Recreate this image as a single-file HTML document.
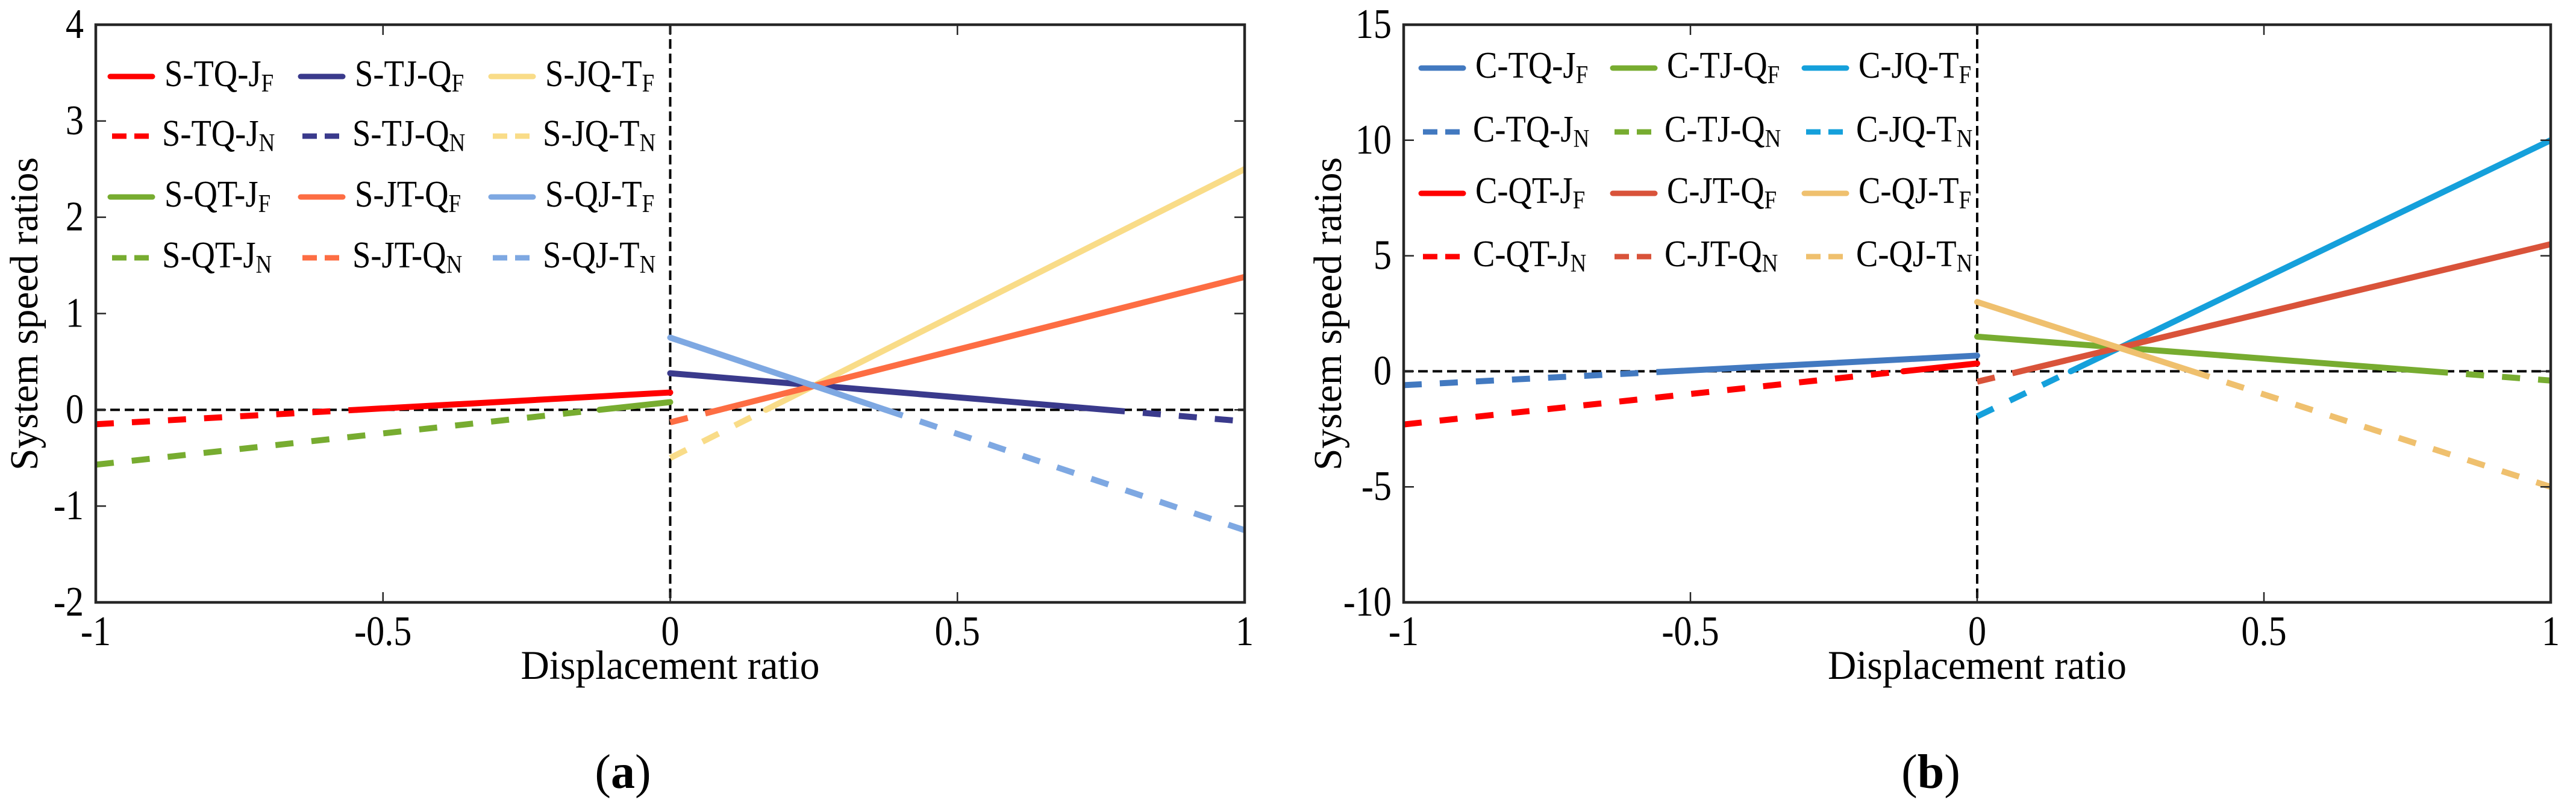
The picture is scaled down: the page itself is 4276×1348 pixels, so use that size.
<!DOCTYPE html>
<html><head><meta charset="utf-8"><style>
html,body{margin:0;padding:0;background:#fff}
svg{display:block}
svg text, svg tspan{font-family:"Liberation Serif","Times New Roman",serif !important;fill:#000}
</style></head><body>
<svg id="fig" width="4276" height="1348" viewBox="0 0 4276 1348" xmlns="http://www.w3.org/2000/svg" font-family="Liberation Serif, serif">
</svg>
<script>
// ---- data: panel (a) ----
const xTicks = [-1, -0.5, 0, 0.5, 1];
const xTickLabels = ['-1', '-0.5', '0', '0.5', '1'];
const aYTicks = [-2, -1, 0, 1, 2, 3, 4];
const aYTickLabels = ['-2', '-1', '0', '1', '2', '3', '4'];
const aNames = ['S-TQ-J', 'S-TJ-Q', 'S-JQ-T', 'S-QT-J', 'S-JT-Q', 'S-QJ-T'];
const aColors = ['#ff0000', '#3a3a8c', '#f9dc88', '#77ac30', '#fd6d43', '#7ea8e2'];
const aX0 = [-1, 0, 0, -1, 0, 0];
const aX1 = [0, 1, 1, 0, 1, 1];
const aY0 = [-0.15, 0.38, -0.5, -0.57, -0.13, 0.75];
const aY1 = [0.18, -0.12, 2.5, 0.08, 1.38, -1.25];
// ---- data: panel (b) ----
const bYTicks = [-10, -5, 0, 5, 10, 15];
const bYTickLabels = ['-10', '-5', '0', '5', '10', '15'];
const bNames = ['C-TQ-J', 'C-TJ-Q', 'C-JQ-T', 'C-QT-J', 'C-JT-Q', 'C-QJ-T'];
const bColors = ['#4279c0', '#77ac30', '#15a0db', '#ff0000', '#d9533a', '#efc06e'];
const bX0 = [-1, 0, 0, -1, 0, 0];
const bX1 = [0, 1, 1, 0, 1, 1];
const bY0 = [-0.6, 1.5, -1.95, -2.3, -0.45, 3.0];
const bY1 = [0.68, -0.4, 10.0, 0.34, 5.5, -5.0];

const NS = 'http://www.w3.org/2000/svg';
const svg = document.getElementById('fig');
const FONT = '"Liberation Serif", serif';
function mk(tag, attrs, parent) {
  const e = document.createElementNS(NS, tag);
  for (const k in attrs) e.setAttribute(k, attrs[k]);
  if (tag === 'text') e.setAttribute('font-family', FONT);
  (parent || svg).appendChild(e);
  return e;
}

function panel(cfg) {
  const g = mk('g', {});
  
  
  const L = cfg.left, R = cfg.right, T = 41, B = 1000;
  const xs = v => L + (v + 1) / 2 * (R - L);
  const ys = v => T + (cfg.ymax - v) / (cfg.ymax - cfg.ymin) * (B - T);
  const clip = mk('clipPath', { id: cfg.id + '-clip' }, g);
  mk('rect', { x: L, y: T, width: R - L, height: B - T }, clip);

  const zl = mk('line', { x1: L, x2: R, y1: ys(0), y2: ys(0), stroke: '#000', 'stroke-width': 4, 'stroke-dasharray': '16 8' }, g);
  
  
  const zv = mk('line', { x1: xs(0), x2: xs(0), y1: T, y2: B, stroke: '#000', 'stroke-width': 4, 'stroke-dasharray': '16 8' }, g);
  
  

  const sg = mk('g', { 'clip-path': 'url(#' + cfg.id + '-clip)' }, g);
  for (let i = 0; i < cfg.names.length; i++) {
    const x0 = cfg.x0[i], x1 = cfg.x1[i], y0 = cfg.y0[i], y1 = cfg.y1[i];
    let xc = null;
    if ((y0 > 0) !== (y1 > 0)) xc = x0 + (0 - y0) / (y1 - y0) * (x1 - x0);
    const segs = xc === null ? [[x0, y0, x1, y1]] : [[x0, y0, xc, 0], [xc, 0, x1, y1]];
    segs.forEach(s => {
      const neg = (s[1] + s[3]) / 2 < 0;
      const ln = mk('line', { x1: xs(s[0]), y1: ys(s[1]), x2: xs(s[2]), y2: ys(s[3]), stroke: cfg.colors[i], 'stroke-width': 10, 'stroke-linecap': neg ? 'butt' : 'round' }, sg);
      if (neg) ln.setAttribute('stroke-dasharray', '30 30');
      
      
    });
  }

  const box = mk('rect', { x: L, y: T, width: R - L, height: B - T, fill: 'none', stroke: '#262626', 'stroke-width': 4.5 }, g);
  
  

  xTicks.forEach((v, i) => {
    const x = xs(v);
    mk('line', { x1: x, x2: x, y1: B, y2: B - 17, stroke: '#262626', 'stroke-width': 2.5 }, g);
    mk('line', { x1: x, x2: x, y1: T, y2: T + 17, stroke: '#262626', 'stroke-width': 2.5 }, g);
    const t = mk('text', { x: x, y: 1071, 'font-size': 70, 'text-anchor': 'middle', transform: 'translate(' + x + ',0) scale(0.86,1) translate(' + (-x) + ',0)' }, g);
    t.textContent = xTickLabels[i];
    
    
  });
  cfg.yTicks.forEach((v, i) => {
    const y = ys(v);
    mk('line', { x1: L, x2: L + 17, y1: y, y2: y, stroke: '#262626', 'stroke-width': 2.5 }, g);
    mk('line', { x1: R, x2: R - 17, y1: y, y2: y, stroke: '#262626', 'stroke-width': 2.5 }, g);
    const xr = L - 20;
    const t = mk('text', { x: xr, y: y + 22, 'font-size': 70, 'text-anchor': 'end', transform: 'translate(' + xr + ',0) scale(0.86,1) translate(' + (-xr) + ',0)' }, g);
    t.textContent = cfg.yTickLabels[i];
    
    
  });

  const xt = mk('text', { x: (L + R) / 2, y: 1127, 'font-size': 68, 'text-anchor': 'middle', textLength: 496, lengthAdjust: 'spacingAndGlyphs' }, g);
  xt.textContent = 'Displacement ratio';
  
  
  const yt = mk('text', { x: 0, y: 0, 'font-size': 66, 'text-anchor': 'middle', textLength: 520, lengthAdjust: 'spacingAndGlyphs', transform: 'translate(' + cfg.ytx + ',521) rotate(-90)' }, g);
  yt.textContent = 'System speed ratios';
  
  

  const pl = mk('text', { x: cfg.labelX, y: 1308, 'font-size': 80, 'text-anchor': 'middle' }, g);
  
  
  const p1 = mk('tspan', {}, pl); p1.textContent = '(';
  const p2 = mk('tspan', { 'font-weight': 'bold' }, pl); p2.textContent = cfg.label;
  const p3 = mk('tspan', {}, pl); p3.textContent = ')';

  const lg = mk('g', {}, g);
  
  
  for (let r = 0; r < 4; r++) {
    for (let c = 0; c < 3; c++) {
      const idx = (r < 2 ? 0 : 3) + c;
      const neg = r % 2 === 1;
      const lx = cfg.legX + c * cfg.legDX, ly = cfg.legY[r];
      const e = mk('g', {}, lg);
      
      
      const sw = mk('line', { x1: lx + (neg ? 3 : 0), x2: lx + 70, y1: ly, y2: ly, stroke: cfg.colors[idx], 'stroke-width': 9, 'stroke-linecap': neg ? 'butt' : 'round' }, e);
      if (neg) sw.setAttribute('stroke-dasharray', '24 13');
      const tx = lx + 90 - (neg ? 4 : 0);
      const t = mk('text', { x: tx, y: ly + 16, 'font-size': 62, transform: 'translate(' + tx + ',0) scale(0.88,1) translate(' + (-tx) + ',0)' }, e);
      const m = mk('tspan', {}, t); m.textContent = cfg.names[idx];
      const s = mk('tspan', { 'font-size': 42, dy: 9 }, t); s.textContent = neg ? 'N' : 'F';
    }
  }
}

panel({ id: 'panel-a', left: 159, right: 2066, ymin: -2, ymax: 4, yTicks: aYTicks, yTickLabels: aYTickLabels,
  names: aNames, colors: aColors, x0: aX0, x1: aX1, y0: aY0, y1: aY1, ytx: 62, labelX: 1034, label: 'a',
  legX: 183, legDX: 316, legY: [127, 226, 327, 428] });
panel({ id: 'panel-b', left: 2330, right: 4234, ymin: -10, ymax: 15, yTicks: bYTicks, yTickLabels: bYTickLabels,
  names: bNames, colors: bColors, x0: bX0, x1: bX1, y0: bY0, y1: bY1, ytx: 2226, labelX: 3205, label: 'b',
  legX: 2359, legDX: 318, legY: [113, 219, 321, 426] });
</script>
</body></html>
